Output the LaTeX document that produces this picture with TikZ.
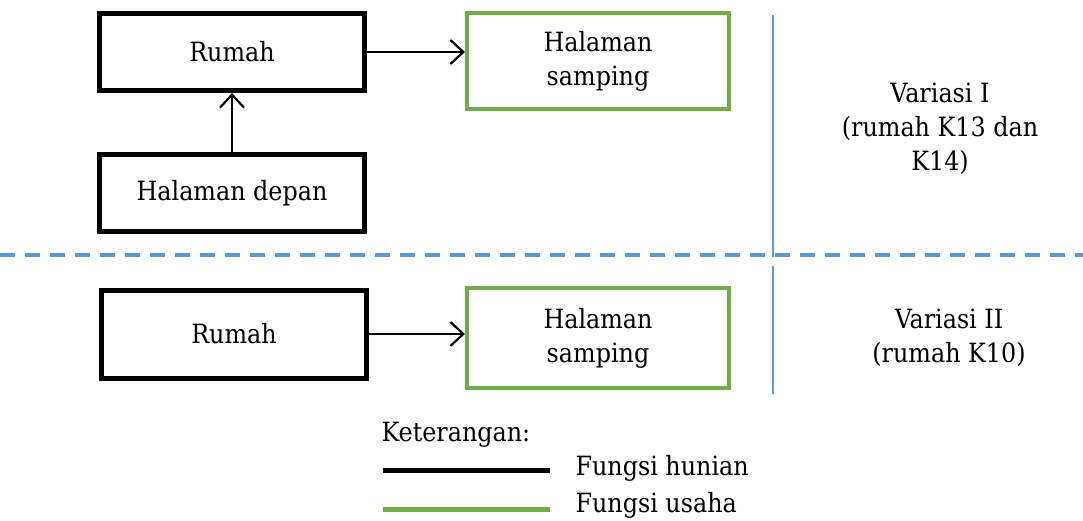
\documentclass[tikz,border=0pt]{standalone}
\usepackage{fontspec}
\setmainfont{DejaVu Serif Condensed}
\usetikzlibrary{arrows.meta}
\definecolor{offblue}{RGB}{91,155,213}
\definecolor{offgreen}{RGB}{112,173,71}
\tikzset{
  hunian/.style={draw=black, line width=5pt, minimum width=265pt, minimum height=77pt, inner sep=0pt, align=center},
  usaha/.style={draw=offgreen, line width=4pt, minimum width=262pt, minimum height=96pt, inner sep=0pt, align=center},
  flow/.style={line width=2.2pt, -{Straight Barb[length=13pt,width=24pt,line width=2.2pt]}},
  txt/.style={font=\fontsize{26.5}{34}\selectfont},
  sep/.style={color=offblue, line width=1.3pt}
}
\begin{document}
\begin{tikzpicture}[x=1pt,y=-1pt,txt]
\useasboundingbox (0,0) rectangle (1083,521);
% top variant
\node[hunian] (rumah1) at (232,52) {Rumah};
\node[usaha] (samping1) at (598,61) {Halaman\\samping};
\node[hunian] (depan) at (232,193) {Halaman depan};
\draw[flow] (rumah1.east) -- (samping1.west |- rumah1.east);
\draw[flow] (depan.north) -- (rumah1.south);
\node[align=center] (var1) at (940,129) {Variasi I\\(rumah K13 dan\\K14)};
% separators
\coordinate (dl) at (0,255);
\coordinate (dr) at (1083,255);
\draw[offblue, line width=4pt, dash pattern=on 15pt off 10pt] (dl) -- (dr);
\coordinate (v1t) at (773,15);
\coordinate (v1b) at (773,257);
\coordinate (v2t) at (773,266);
\coordinate (v2b) at (773,394);
\draw[sep] (v1t) -- (v1b);
\draw[sep] (v2t) -- (v2b);
% bottom variant
\node[hunian, minimum height=88pt] (rumah2) at (234,334) {Rumah};
\node[usaha, minimum height=100pt] (samping2) at (598,338) {Halaman\\samping};
\draw[flow] (rumah2.east) -- (samping2.west |- rumah2.east);
\node[align=center] (var2) at (949,338) {Variasi II\\(rumah K10)};
% legend
\node[anchor=west] (ket) at (378,435) {Keterangan:};
\coordinate (l1a) at (383,470);
\coordinate (l1b) at (550,470);
\coordinate (l2a) at (383,509);
\coordinate (l2b) at (550,509);
\draw[black, line width=5pt] (l1a) -- (l1b);
\draw[offgreen, line width=5pt] (l2a) -- (l2b);
\node[anchor=west] (hunian) at (572,468) {Fungsi hunian};
\node[anchor=west] (usaha) at (572,505) {Fungsi usaha};
\end{tikzpicture}
\end{document}
